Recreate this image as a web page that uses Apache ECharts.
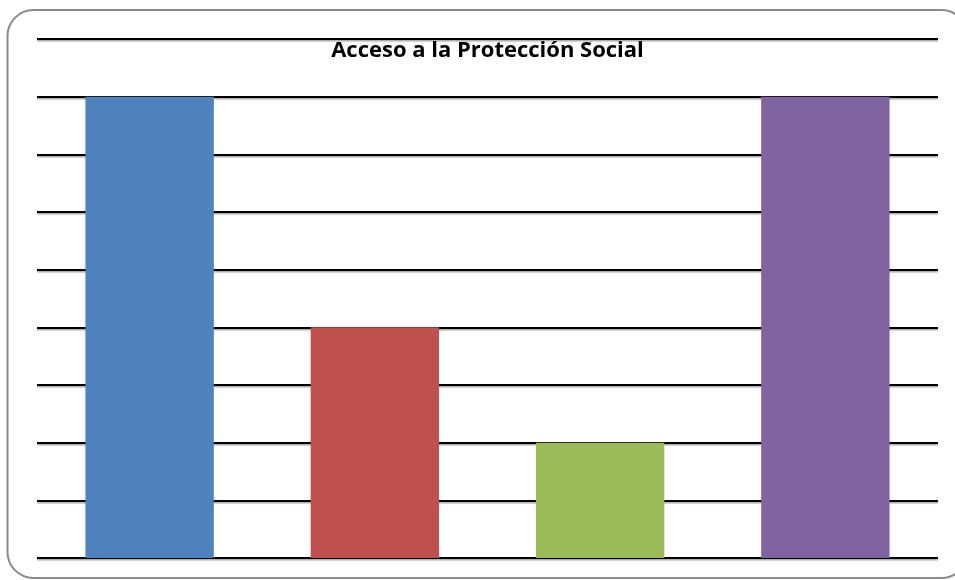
<!DOCTYPE html>
<html>
<head>
<meta charset="utf-8">
<script src="https://cdn.jsdelivr.net/npm/echarts@6/dist/echarts.min.js"></script>
<style>
html,body{margin:0;padding:0;background:#fff;}
#c{width:955px;height:580px;}
</style>
</head>
<body>
<div id="c"></div>
<script>
const title = 'Acceso a la Protección Social';
const categories = ['1', '2', '3', '4'];
const values = [8, 4, 2, 8];
const barColors = ['#4F81BD', '#C0504D', '#9BBB59', '#8064A2'];
const yMin = 0, yMax = 9, yInterval = 1;

const chart = echarts.init(document.getElementById('c'), null, {renderer: 'canvas'});
chart.setOption({
  animation: false,
  backgroundColor: '#fff',
  graphic: [{
    type: 'rect',
    z: 100,
    silent: true,
    shape: {x: 7.5, y: 10, width: 960, height: 568, r: 26},
    style: {fill: 'none', stroke: '#8a8a8a', lineWidth: 2}
  }, {
    type: 'text',
    z: 50,
    silent: true,
    x: 487.5,
    y: 50.5,
    style: {
      text: title,
      align: 'center',
      verticalAlign: 'middle',
      fontFamily: 'Open Sans',
      fontWeight: 'bold',
      fontSize: 22,
      fill: '#000'
    }
  }],
  grid: {left: 37, right: 17, top: 39, bottom: 22, containLabel: false},
  xAxis: {
    type: 'category',
    data: categories,
    axisLine: {show: false},
    axisTick: {show: false},
    axisLabel: {show: false},
    splitLine: {show: false}
  },
  yAxis: {
    type: 'value',
    min: yMin, max: yMax, interval: yInterval,
    axisLine: {show: false},
    axisTick: {show: false},
    axisLabel: {show: false},
    splitLine: {lineStyle: {color: '#000', width: 2, shadowColor: 'rgba(0,0,0,0.35)', shadowOffsetY: 1.5, shadowBlur: 1}}
  },
  series: [{
    type: 'bar',
    barCategoryGap: '43%',
    data: values.map((v, i) => ({value: v, itemStyle: {color: barColors[i]}}))
  }]
});
</script>
</body>
</html>
